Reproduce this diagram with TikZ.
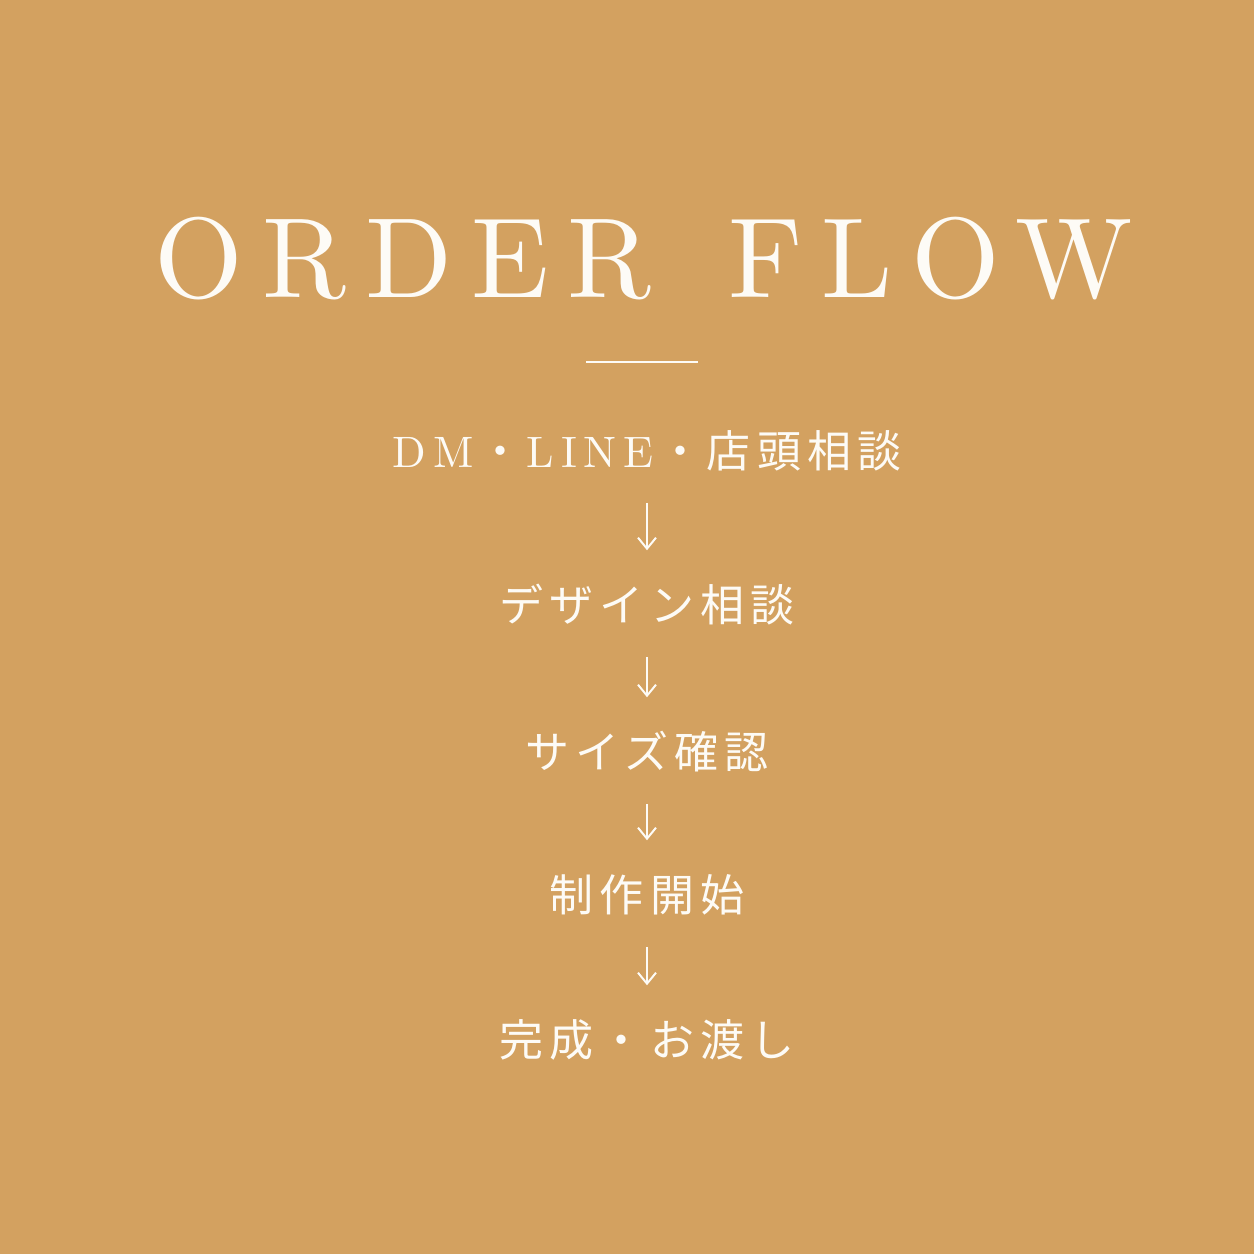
\documentclass[tikz,border=0pt]{standalone}
\usepackage{fontspec}
\usetikzlibrary{arrows.meta}
\newfontfamily\jpfont{Noto Sans CJK JP}[LetterSpace=14]
\newfontfamily\titlefont{lmroman10-regular.otf}[LetterSpace=16.5]
\newfontfamily\enfont{lmroman10-regular.otf}[LetterSpace=16]
\definecolor{kraft}{RGB}{211,161,96}
\definecolor{chalk}{RGB}{253,251,246}
\newcommand{\middot}{\hspace{2.5pt}{\jpfont ・}\hspace{2pt}}
\tikzset{every picture/.style={line width=0.75pt}}
\tikzset{
  flowstep/.style={text=chalk, inner sep=0pt, text height=17pt, text depth=1pt, font=\fontsize{22}{26}\selectfont},
  flowarrow/.style={draw=chalk, line width=1pt, -{Straight Barb[length=5.5pt,width=9pt]}, shorten <=16.5pt, shorten >=18pt},
}

\begin{document}
\begin{tikzpicture}[x=0.5pt,y=0.5pt,yscale=-1,xscale=1]
        %Background
        \fill [kraft] (0,0) rectangle (1254,1254);
        \useasboundingbox (0,0) rectangle (1254,1254);
        % Title
        \node [anchor=base, text=chalk, inner sep=0pt, font=\fontsize{57}{60}\titlefont] (title) at (644,297) {ORDER\hspace{10pt} FLOW};
        %Rule under title
        \coordinate (ruleL) at (586,362);
        \coordinate (ruleR) at (698,362);
        \draw [chalk, line width=0.8pt] (ruleL) -- (ruleR);
        % Steps
        \node [flowstep] (dmline) at (647,451) {\enfont DM\middot\enfont LINE\middot\jpfont 店頭相談};
        \node [flowstep] (design) at (647,605) {\jpfont デザイン相談};
        \node [flowstep] (size) at (647,752) {\jpfont サイズ確認};
        \node [flowstep] (make) at (647,895) {\jpfont 制作開始};
        \node [flowstep] (handover) at (647,1040) {\jpfont 完成・お渡し};
        % Arrows
        \foreach \a/\b in {dmline/design, design/size, size/make, make/handover}
          \draw [flowarrow] (\a) -- (\b);
\end{tikzpicture}
\end{document}
